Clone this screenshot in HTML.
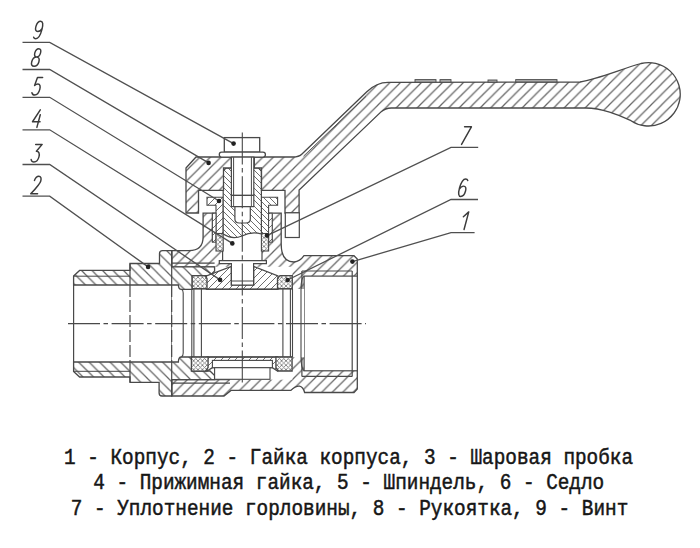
<!DOCTYPE html>
<html><head><meta charset="utf-8"><style>
html,body{margin:0;padding:0;background:#fff;width:700px;height:548px;overflow:hidden}
#d{position:absolute;left:0;top:0}
.t{position:absolute;left:0;width:700px;font-family:"Liberation Mono",monospace;font-size:19.25px;color:#151515;white-space:pre;line-height:22px}
</style></head><body>
<div id="d"><svg width="700" height="548" viewBox="0 0 700 548"><defs><pattern id="hb" patternUnits="userSpaceOnUse" width="10.5" height="10.5" x="0" y="0"><path d="M-10.5,10.5 L10.5,-10.5 M0,10.5 L10.5,0 M0,21.0 L21.0,0" stroke="#666666" stroke-width="1.25" fill="none"/></pattern><pattern id="hn" patternUnits="userSpaceOnUse" width="10.5" height="10.5" x="0" y="0"><path d="M0,0 L10.5,10.5 M-10.5,0 L10.5,21.0 M0,-10.5 L21.0,10.5" stroke="#666666" stroke-width="1.25" fill="none"/></pattern><pattern id="hf" patternUnits="userSpaceOnUse" width="6.0" height="6.0" x="0" y="0"><path d="M0,0 L6.0,6.0 M-6.0,0 L6.0,12.0 M0,-6.0 L12.0,6.0" stroke="#666666" stroke-width="0.95" fill="none"/></pattern><pattern id="hfb" patternUnits="userSpaceOnUse" width="7.0" height="7.0" x="0" y="0"><path d="M-7.0,7.0 L7.0,-7.0 M0,7.0 L7.0,0 M0,14.0 L14.0,0" stroke="#666666" stroke-width="0.95" fill="none"/></pattern><pattern id="hx" patternUnits="userSpaceOnUse" width="4.4" height="4.4"><path d="M0,0 L4.4,4.4 M4.4,0 L0,4.4 M-1,3.4 L1,5.4 M3.4,-1 L5.4,1 M-1,1 L1,-1 M3.4,5.4 L5.4,3.4" stroke="#7a7a7a" stroke-width="0.85" fill="none"/></pattern><filter id="bl" x="-5%" y="-5%" width="110%" height="110%"><feGaussianBlur stdDeviation="0.45"/></filter></defs><g filter="url(#bl)"><rect x="0" y="0" width="700" height="548" fill="#fff"/><path d="M171.7,250.6 L189,250.6 Q203.1,250.6 203.1,237 L203.1,213.2 L281.2,213.2 L281.2,244 Q281.2,262 294,262 Q300,261.5 304,255.7 L354,255.7 L357.3,259 L357.3,389 L354,392.5 L304.6,392.5 Q301.4,381 290.7,390.4 L231,390.4 L224,396 L171.7,396 Z" fill="#fff" stroke="none"/>
<path d="M171.7,250.6 L189,250.6 Q203.1,250.6 203.1,237 L203.1,213.2 L281.2,213.2 L281.2,244 Q281.2,262 294,262 Q300,261.5 304,255.7 L354,255.7 L357.3,259 L357.3,389 L354,392.5 L304.6,392.5 Q301.4,381 290.7,390.4 L231,390.4 L224,396 L171.7,396 Z" fill="url(#hb)" stroke="#484848" stroke-width="1.3" />
<rect x="304.1" y="276.1" width="53.20" height="94.70" fill="#fff" stroke="#484848" stroke-width="1.2"/>
<line x1="301.9" y1="271" x2="352.2" y2="271" stroke="#484848" stroke-width="1.2" />
<line x1="301.9" y1="376.4" x2="352.2" y2="376.4" stroke="#484848" stroke-width="1.2" />
<line x1="301.9" y1="271" x2="301.9" y2="376.4" stroke="#484848" stroke-width="1.2" />
<line x1="352.2" y1="271" x2="352.2" y2="376.4" stroke="#484848" stroke-width="1.2" />
<rect x="171.7" y="266.8" width="120.60" height="112.90" fill="#fff" stroke="none" stroke-width="0"/>
<line x1="171.7" y1="263.2" x2="214.6" y2="263.2" stroke="#484848" stroke-width="1.2" />
<line x1="171.7" y1="266.8" x2="214.6" y2="266.8" stroke="#484848" stroke-width="1.2" />
<line x1="171.7" y1="379.7" x2="230" y2="379.7" stroke="#484848" stroke-width="1.2" />
<line x1="171.7" y1="383.1" x2="230" y2="383.1" stroke="#484848" stroke-width="1.2" />
<rect x="292.3" y="289" width="11.80" height="68.30" fill="#fff" stroke="none" stroke-width="0"/>
<rect x="212.4" y="213.9" width="59.80" height="28.30" fill="#fff" stroke="none" stroke-width="0"/>
<rect x="222.6" y="213.9" width="39.40" height="48.10" fill="#fff" stroke="none" stroke-width="0"/>
<line x1="212.4" y1="213.9" x2="212.4" y2="242.2" stroke="#484848" stroke-width="1.2" />
<line x1="272.2" y1="213.9" x2="272.2" y2="242.2" stroke="#484848" stroke-width="1.2" />
<line x1="222.6" y1="242.2" x2="222.6" y2="261" stroke="#484848" stroke-width="1.2" />
<line x1="262" y1="242.2" x2="262" y2="261" stroke="#484848" stroke-width="1.2" />
<path d="M73.6,276 L79.6,270.4 L130,270.4 L130,263.5 L159.5,263.5 L159.5,253.5 Q159.5,250.6 162.5,250.6 L171.7,250.6 L171.7,266.8 L214.6,266.8 L214.6,271 L210,275.6 L192.2,275.6 L192.2,289.3 L181.4,289.3 Q178.4,289.3 178.4,285 L73.6,285 Z" fill="#fff" stroke="none"/>
<path d="M73.6,276 L79.6,270.4 L130,270.4 L130,263.5 L159.5,263.5 L159.5,253.5 Q159.5,250.6 162.5,250.6 L171.7,250.6 L171.7,266.8 L214.6,266.8 L214.6,271 L210,275.6 L192.2,275.6 L192.2,289.3 L181.4,289.3 Q178.4,289.3 178.4,285 L73.6,285 Z" fill="url(#hn)" stroke="#484848" stroke-width="1.3" />
<path d="M73.6,371.6 L79.6,377 L130,377 L130,382.3 L159.1,382.3 L159.1,393 Q159.1,396 162,396 L171.7,396 L171.7,379.7 L214.6,379.7 L214.6,375.5 L210,371 L192.2,371 L192.2,357 L181.4,357 Q178.4,357 178.4,362 L73.6,362 Z" fill="#fff" stroke="none"/>
<path d="M73.6,371.6 L79.6,377 L130,377 L130,382.3 L159.1,382.3 L159.1,393 Q159.1,396 162,396 L171.7,396 L171.7,379.7 L214.6,379.7 L214.6,375.5 L210,371 L192.2,371 L192.2,357 L181.4,357 Q178.4,357 178.4,362 L73.6,362 Z" fill="url(#hn)" stroke="#484848" stroke-width="1.3" />
<line x1="73.6" y1="276.2" x2="130" y2="276.2" stroke="#484848" stroke-width="1.0" />
<line x1="73.6" y1="371.3" x2="130" y2="371.3" stroke="#484848" stroke-width="1.0" />
<line x1="73.6" y1="285" x2="73.6" y2="362" stroke="#484848" stroke-width="1.2" />
<line x1="130" y1="263.5" x2="130" y2="285" stroke="#484848" stroke-width="1.2" />
<line x1="171.7" y1="250.6" x2="171.7" y2="285" stroke="#484848" stroke-width="1.2" />
<line x1="130" y1="362" x2="130" y2="382.3" stroke="#484848" stroke-width="1.2" />
<line x1="171.7" y1="362" x2="171.7" y2="396" stroke="#484848" stroke-width="1.2" />
<path d="M206.4,289.3 L206.4,276 L231.4,266.5 L231.4,285 L253.6,285 L253.6,266.5 L278,276 L278,289.3 Z" fill="#fff" stroke="none"/>
<path d="M206.4,289.3 L206.4,276 L231.4,266.5 L231.4,285 L253.6,285 L253.6,266.5 L278,276 L278,289.3 Z" fill="url(#hfb)" stroke="#484848" stroke-width="1.3" />
<path d="M207,357 L277.5,357 L277.5,371 L272.4,367.7 L212.4,367.7 L207,371 Z" fill="#fff" stroke="none"/>
<path d="M207,357 L277.5,357 L277.5,371 L272.4,367.7 L212.4,367.7 L207,371 Z" fill="url(#hfb)" stroke="#484848" stroke-width="1.3" />
<rect x="212.4" y="360.4" width="60.00" height="7.30" fill="#fff" stroke="#484848" stroke-width="1.1"/>
<rect x="214.6" y="367.7" width="55.40" height="11.60" fill="#fff" stroke="#484848" stroke-width="1.1"/>
<line x1="192" y1="289" x2="292.3" y2="289" stroke="#484848" stroke-width="1.2" />
<line x1="192" y1="357" x2="292.3" y2="357" stroke="#484848" stroke-width="1.2" />
<line x1="191.8" y1="289" x2="191.8" y2="357" stroke="#484848" stroke-width="1.1" />
<line x1="193.9" y1="289" x2="193.9" y2="357" stroke="#484848" stroke-width="1.1" />
<line x1="201.4" y1="289" x2="201.4" y2="357" stroke="#484848" stroke-width="1.1" />
<line x1="282.9" y1="289" x2="282.9" y2="357" stroke="#484848" stroke-width="1.1" />
<line x1="290.4" y1="289" x2="290.4" y2="357" stroke="#484848" stroke-width="1.1" />
<line x1="292.5" y1="289" x2="292.5" y2="357" stroke="#484848" stroke-width="1.1" />
<path d="M181.4,289.3 Q183.2,290 183.2,293 L183.2,353 Q183.2,356 181.4,357" fill="none" stroke="#484848" stroke-width="1.1" />
<path d="M304.1,276.1 Q301,278 301,289 L301,357 Q301,368 304.1,370.8" fill="none" stroke="#484848" stroke-width="1.1" />
<path d="M192.2,275.6 L204.5,275.6 L207,278.5 L207,288.7 L192.2,288.7 Z" fill="#fff" stroke="none"/>
<path d="M192.2,275.6 L204.5,275.6 L207,278.5 L207,288.7 L192.2,288.7 Z" fill="url(#hx)" stroke="#484848" stroke-width="1.3" />
<path d="M292.3,275.6 L280,275.6 L277.5,278.5 L277.5,288.7 L292.3,288.7 Z" fill="#fff" stroke="none"/>
<path d="M292.3,275.6 L280,275.6 L277.5,278.5 L277.5,288.7 L292.3,288.7 Z" fill="url(#hx)" stroke="#484848" stroke-width="1.3" />
<path d="M191.4,357 L208.1,357 L208.1,367.5 L205.5,371.1 L191.4,371.1 Z" fill="#fff" stroke="none"/>
<path d="M191.4,357 L208.1,357 L208.1,367.5 L205.5,371.1 L191.4,371.1 Z" fill="url(#hx)" stroke="#484848" stroke-width="1.3" />
<path d="M292.1,357 L275.9,357 L275.9,367.5 L278.5,371 L292.1,371 Z" fill="#fff" stroke="none"/>
<path d="M292.1,357 L275.9,357 L275.9,367.5 L278.5,371 L292.1,371 Z" fill="url(#hx)" stroke="#484848" stroke-width="1.3" />
<path d="M207,197.2 L223.2,197.2 L223.2,233.5 L216,233.5 L216,205.2 L207,205.2 Z" fill="#fff" stroke="none"/>
<path d="M207,197.2 L223.2,197.2 L223.2,233.5 L216,233.5 L216,205.2 L207,205.2 Z" fill="url(#hfb)" stroke="#484848" stroke-width="1.1" />
<rect x="212.4" y="213.2" width="3.60" height="29.00" fill="#fff"/>
<rect x="212.4" y="213.2" width="3.60" height="29.00" fill="url(#hfb)" stroke="#484848" stroke-width="1.0"/>
<path d="M277.6,197.2 L261.4,197.2 L261.4,233.5 L268.6,233.5 L268.6,205.2 L277.6,205.2 Z" fill="#fff" stroke="none"/>
<path d="M277.6,197.2 L261.4,197.2 L261.4,233.5 L268.6,233.5 L268.6,205.2 L277.6,205.2 Z" fill="url(#hf)" stroke="#484848" stroke-width="1.1" />
<rect x="268.6" y="213.2" width="3.60" height="29.00" fill="#fff"/>
<rect x="268.6" y="213.2" width="3.60" height="29.00" fill="url(#hfb)" stroke="#484848" stroke-width="1.0"/>
<rect x="216" y="233.5" width="7.20" height="17.50" fill="#fff"/>
<rect x="216" y="233.5" width="7.20" height="17.50" fill="url(#hx)" stroke="#484848" stroke-width="1.1"/>
<rect x="261.4" y="233.5" width="7.20" height="17.50" fill="#fff"/>
<rect x="261.4" y="233.5" width="7.20" height="17.50" fill="url(#hx)" stroke="#484848" stroke-width="1.1"/>
<path d="M226,168 L258.6,168 L261.4,171 L261.4,234 Q252,231 242,236 Q232,240 223.2,234 L223.2,171 Z" fill="#fff" stroke="none"/>
<path d="M226,168 L258.6,168 L261.4,171 L261.4,234 Q252,231 242,236 Q232,240 223.2,234 L223.2,171 Z" fill="url(#hf)" stroke="#484848" stroke-width="1.2" />
<path d="M219.3,260.7 L266.4,260.7 L266.4,263.6 L253.6,263.6 L253.6,285 L231.4,285 L231.4,263.6 L219.3,263.6 Z" fill="#fff" stroke="#484848" stroke-width="1.2" />
<line x1="231.4" y1="281" x2="253.6" y2="281" stroke="#484848" stroke-width="1.0" />
<path d="M186,168 L196,157 L293,157 Q298.9,157 302,154 L366.8,91.7 Q376.6,82.3 388,82.3 L580,82 C598,79 620,69.5 641,63.5 A31.7,31.7 0 1,1 631,120.7 C618,115 602,108 586,108 L392,108 Q385.4,107.8 380.8,112.1 L299.1,190 L299.1,213 L285,213 L285,190.3 L261.5,190.3 L261.5,168 L254.3,168 L254.3,157 L231.4,157 L231.4,168 L223.5,168 L223.5,190.3 L198.5,190.3 L198.5,213 L186,213 Z" fill="#fff" stroke="none"/>
<path d="M186,168 L196,157 L293,157 Q298.9,157 302,154 L366.8,91.7 Q376.6,82.3 388,82.3 L580,82 C598,79 620,69.5 641,63.5 A31.7,31.7 0 1,1 631,120.7 C618,115 602,108 586,108 L392,108 Q385.4,107.8 380.8,112.1 L299.1,190 L299.1,213 L285,213 L285,190.3 L261.5,190.3 L261.5,168 L254.3,168 L254.3,157 L231.4,157 L231.4,168 L223.5,168 L223.5,190.3 L198.5,190.3 L198.5,213 L186,213 Z" fill="url(#hb)" stroke="#484848" stroke-width="1.3" />
<line x1="303.5" y1="156.2" x2="366" y2="96.3" stroke="#484848" stroke-width="0.9" />
<rect x="415" y="79.6" width="21.00" height="2.60" fill="#aaa" stroke="#484848" stroke-width="0.9"/>
<rect x="440" y="79.6" width="11.00" height="2.60" fill="#aaa" stroke="#484848" stroke-width="0.9"/>
<rect x="488" y="80" width="9.00" height="2.20" fill="#aaa" stroke="#484848" stroke-width="0.9"/>
<rect x="515.7" y="79.6" width="41.30" height="2.40" fill="#aaa" stroke="#484848" stroke-width="0.9"/>
<rect x="285.3" y="212.8" width="14.00" height="24.70" fill="#fff" stroke="#484848" stroke-width="1.2"/>
<rect x="224.3" y="137.6" width="35.40" height="14.50" fill="#fff" stroke="#484848" stroke-width="1.3"/>
<path d="M221.5,152.1 L263,152.1 Q265.4,152.1 265.4,154.6 Q265.4,157.1 263,157.1 L221.5,157.1 Q219.3,157.1 219.3,154.6 Q219.3,152.1 221.5,152.1 Z" fill="#fff" stroke="#484848" stroke-width="1.3" />
<rect x="231.4" y="157.1" width="22.40" height="38.30" fill="#fff" stroke="#484848" stroke-width="1.2"/>
<line x1="233.6" y1="157.1" x2="233.6" y2="195.4" stroke="#484848" stroke-width="1.0" />
<line x1="251.4" y1="157.1" x2="251.4" y2="195.4" stroke="#484848" stroke-width="1.0" />
<rect x="231.4" y="195.4" width="22.40" height="11.20" fill="#fff" stroke="#484848" stroke-width="1.2"/>
<line x1="233.6" y1="195.4" x2="233.6" y2="206.6" stroke="#484848" stroke-width="0.9" />
<line x1="251.4" y1="195.4" x2="251.4" y2="206.6" stroke="#484848" stroke-width="0.9" />
<path d="M234.9,206.6 L250.3,206.6 L250.3,219 Q250.3,223 246,223 L239.2,223 Q234.9,223 234.9,219 Z" fill="#fff" stroke="#484848" stroke-width="1.2" />
<line x1="68" y1="323.6" x2="366" y2="323.6" stroke="#484848" stroke-width="1.1" stroke-dasharray="32,3.5,4.5,3.6"/>
<line x1="242.3" y1="132.6" x2="242.3" y2="383" stroke="#484848" stroke-width="1.1" stroke-dasharray="32,3.5,4.5,3.6"/>
<line x1="130" y1="285" x2="130" y2="362" stroke="#484848" stroke-width="1.2" stroke-dasharray="12,3"/>
<line x1="171.7" y1="285" x2="171.7" y2="362" stroke="#484848" stroke-width="1.2" stroke-dasharray="12,3"/>
<path d="M22.5,42.4 L49.7,42.4 L233.6,143.6" fill="none" stroke="#505050" stroke-width="1.3" />
<circle cx="233.6" cy="143.6" r="2.3" fill="#222"/>
<g transform="translate(32.5,38.8) skewX(-15) scale(1.2000,1.7600)"><path d="M0.6,-0.9 C1.1,-0.3 1.9,0 2.7,0 C4.8,0 5.8,-2 5.8,-5.2 C5.8,-8.4 4.7,-10 2.9,-10 C1.2,-10 0.1,-8.8 0.1,-6.9 C0.1,-5.1 1.1,-4.1 2.8,-4.1 C4.2,-4.1 5.2,-4.8 5.8,-5.9" fill="none" stroke="#3a3a3a" stroke-width="1.45" vector-effect="non-scaling-stroke" stroke-linecap="round" stroke-linejoin="round"/></g>
<path d="M22.5,69.5 L49.7,69.5 L208.6,162.9" fill="none" stroke="#505050" stroke-width="1.3" />
<circle cx="208.6" cy="162.9" r="2.3" fill="#222"/>
<g transform="translate(30.5,66.3) skewX(-15) scale(1.2000,1.7600)"><path d="M3,-5.3 C1.5,-5.3 0.6,-6.2 0.6,-7.6 C0.6,-9.1 1.6,-10 3,-10 C4.4,-10 5.4,-9.1 5.4,-7.6 C5.4,-6.2 4.5,-5.3 3,-5.3 C1.2,-5.3 0,-4.3 0,-2.6 C0,-0.9 1.2,0 3,0 C4.8,0 6,-0.9 6,-2.6 C6,-4.3 4.8,-5.3 3,-5.3 Z" fill="none" stroke="#3a3a3a" stroke-width="1.45" vector-effect="non-scaling-stroke" stroke-linecap="round" stroke-linejoin="round"/></g>
<path d="M22.5,97.3 L49.7,97.3 L219,201" fill="none" stroke="#505050" stroke-width="1.3" />
<circle cx="219" cy="201" r="2.3" fill="#222"/>
<g transform="translate(31.2,95) skewX(-15) scale(1.2000,1.7600)"><path d="M5.6,-10 L1.3,-10 L0.7,-5.4 C1.5,-6 2.3,-6.2 3.2,-6.2 C4.9,-6.2 5.9,-5 5.9,-3.2 C5.9,-1.2 4.7,0 2.9,0 C1.6,0 0.7,-0.5 0.1,-1.3" fill="none" stroke="#3a3a3a" stroke-width="1.45" vector-effect="non-scaling-stroke" stroke-linecap="round" stroke-linejoin="round"/></g>
<path d="M22.5,129.8 L49.7,129.8 L232.3,243.4" fill="none" stroke="#505050" stroke-width="1.3" />
<circle cx="232.3" cy="243.4" r="2.3" fill="#222"/>
<g transform="translate(31,127.4) skewX(-15) scale(1.2000,1.7600)"><path d="M3.8,-10 L0,-3.2 L6.3,-3.2 M4.9,-7.2 L4.9,0" fill="none" stroke="#3a3a3a" stroke-width="1.45" vector-effect="non-scaling-stroke" stroke-linecap="round" stroke-linejoin="round"/></g>
<path d="M22.5,164.5 L49.7,164.5 L220.1,279.9" fill="none" stroke="#505050" stroke-width="1.3" />
<circle cx="220.1" cy="279.9" r="2.3" fill="#222"/>
<g transform="translate(30.5,162) skewX(-15) scale(1.2000,1.7600)"><path d="M0.4,-10 L5.8,-10 L2.5,-6.1 C4.7,-6.1 5.9,-4.7 5.9,-2.9 C5.9,-1 4.6,0 2.9,0 C1.6,0 0.6,-0.5 0,-1.4" fill="none" stroke="#3a3a3a" stroke-width="1.45" vector-effect="non-scaling-stroke" stroke-linecap="round" stroke-linejoin="round"/></g>
<path d="M22.5,196.2 L49.7,196.2 L148.1,266.9" fill="none" stroke="#505050" stroke-width="1.3" />
<circle cx="148.1" cy="266.9" r="2.3" fill="#222"/>
<g transform="translate(30.5,193.8) skewX(-15) scale(1.2000,1.7600)"><path d="M0.3,-7.6 C0.5,-9.3 1.7,-10 3,-10 C4.6,-10 5.7,-9 5.7,-7.3 C5.7,-5.6 4.5,-4.3 0.2,0 L5.9,0" fill="none" stroke="#3a3a3a" stroke-width="1.45" vector-effect="non-scaling-stroke" stroke-linecap="round" stroke-linejoin="round"/></g>
<path d="M478.2,147.3 L451,147.3 L267,235.6" fill="none" stroke="#505050" stroke-width="1.3" />
<circle cx="267" cy="235.6" r="2.3" fill="#222"/>
<g transform="translate(459.5,144.4) skewX(-15) scale(1.2000,1.7600)"><path d="M0.3,-10 L6,-10 L1.7,0" fill="none" stroke="#3a3a3a" stroke-width="1.45" vector-effect="non-scaling-stroke" stroke-linecap="round" stroke-linejoin="round"/></g>
<path d="M478,199.5 L451,199.5 L287.6,280" fill="none" stroke="#505050" stroke-width="1.3" />
<circle cx="287.6" cy="280" r="2.3" fill="#222"/>
<g transform="translate(457,196.5) skewX(-15) scale(1.2000,1.7600)"><path d="M5.4,-9.1 C4.9,-9.7 4.1,-10 3.3,-10 C1.2,-10 0.2,-8 0.2,-4.8 C0.2,-1.6 1.3,0 3.1,0 C4.8,0 5.9,-1.2 5.9,-3.1 C5.9,-4.9 4.9,-5.9 3.2,-5.9 C1.8,-5.9 0.8,-5.2 0.2,-4.1" fill="none" stroke="#3a3a3a" stroke-width="1.45" vector-effect="non-scaling-stroke" stroke-linecap="round" stroke-linejoin="round"/></g>
<path d="M474.6,232.7 L451,232.7 L352.4,261.6" fill="none" stroke="#505050" stroke-width="1.3" />
<circle cx="352.4" cy="261.6" r="2.3" fill="#222"/>
<g transform="translate(459,229.5) skewX(-15) scale(1.2000,1.7600)"><path d="M4.2,0 L4.2,-10 L0.8,-7.2" fill="none" stroke="#3a3a3a" stroke-width="1.45" vector-effect="non-scaling-stroke" stroke-linecap="round" stroke-linejoin="round"/></g></g></svg></div>
<svg style="position:absolute;left:0;top:0" width="700" height="548">
<g font-family="Liberation Mono" font-size="19.37" fill="#161616" stroke="#161616" stroke-width="0.45">
<text transform="translate(64.0,463.5) scale(1,1.12)">1 - Корпус, 2 - Гайка корпуса, 3 - Шаровая пробка</text>
<text transform="translate(93.2,488.5) scale(1,1.12)">4 - Прижимная гайка, 5 - Шпиндель, 6 - Седло</text>
<text transform="translate(70.8,514.5) scale(1,1.12)">7 - Уплотнение горловины, 8 - Рукоятка, 9 - Винт</text>
</g></svg>
</body></html>
